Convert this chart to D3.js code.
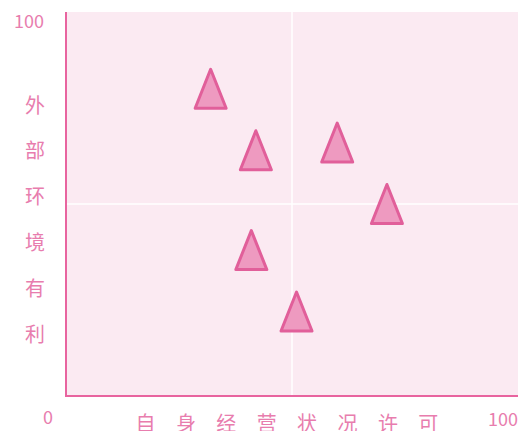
<!DOCTYPE html>
<html>
<head>
<meta charset="utf-8">
<script src="https://cdn.jsdelivr.net/npm/d3@7"></script>
<style>
  body { margin: 0; background: #fff; }
  text { font-family: "Noto Sans CJK SC", "Noto Sans", sans-serif; fill: #E87DAE; }
</style>
</head>
<body>
<script>
//chart data
var xValues = [32, 42, 41, 51, 60, 71]; //自身经营状况许可
var yValues = [80, 64, 38, 22, 66, 50]; //外部环境有利
var xTitle = ["自", "身", "经", "营", "状", "况", "许", "可"];
var yTitle = ["外", "部", "环", "境", "有", "利"];
var tickLabels = ["0", "100"];

var w = 518, h = 431;
//plot box edges (no "top" here, window.top is taken)
var plotL = 66, plotT = 12, plotR = 518, plotB = 396;

var svg = d3.select("body").append("svg")
    .attr("width", w)
    .attr("height", h);

var x = d3.scaleLinear().domain([0, 100]).range([plotL, plotR]);
var y = d3.scaleLinear().domain([0, 100]).range([plotB, plotT]);

//plot background
svg.append("rect")
    .attr("x", plotL)
    .attr("y", plotT)
    .attr("width", plotR - plotL)
    .attr("height", plotB - plotT)
    .style("fill", "#FBEAF2");

//white midlines
svg.append("line")
    .attr("x1", x(50)).attr("x2", x(50))
    .attr("y1", plotT).attr("y2", plotB)
    .style("stroke", "#fff").style("stroke-width", 1.5);
svg.append("line")
    .attr("x1", plotL).attr("x2", plotR)
    .attr("y1", y(50)).attr("y2", y(50))
    .style("stroke", "#fff").style("stroke-width", 1.5);

//axis lines
svg.append("line")
    .attr("x1", plotL).attr("x2", plotL)
    .attr("y1", plotT).attr("y2", plotB + 1)
    .style("stroke", "#E8649F").style("stroke-width", 2);
svg.append("line")
    .attr("x1", plotL - 1).attr("x2", plotR)
    .attr("y1", plotB).attr("y2", plotB)
    .style("stroke", "#E8649F").style("stroke-width", 2);

//tick labels
svg.append("text")
    .attr("x", 44).attr("y", y(100) + 10)
    .attr("dy", "0.35em")
    .attr("text-anchor", "end")
    .style("font-size", "18px")
    .text(tickLabels[1]);
svg.append("text")
    .attr("x", 48).attr("y", 418)
    .attr("dy", "0.35em")
    .attr("text-anchor", "middle")
    .style("font-size", "18px")
    .text(tickLabels[0]);
svg.append("text")
    .attr("x", 503).attr("y", 420)
    .attr("dy", "0.35em")
    .attr("text-anchor", "middle")
    .style("font-size", "18px")
    .text(tickLabels[1]);

//axis titles, one character each
svg.selectAll(".ytitle")
    .data(yTitle)
    .enter()
    .append("text")
    .attr("class", "ytitle")
    .attr("x", 35)
    .attr("y", function(d, i){ return 105.5 + i * 45.8; })
    .attr("dy", "0.35em")
    .attr("text-anchor", "middle")
    .style("font-size", "20px")
    .text(function(d){ return d; });

svg.selectAll(".xtitle")
    .data(xTitle)
    .enter()
    .append("text")
    .attr("class", "xtitle")
    .attr("x", function(d, i){ return 145.5 + i * 40.4; })
    .attr("y", 424)
    .attr("dy", "0.35em")
    .attr("text-anchor", "middle")
    .style("font-size", "20px")
    .text(function(d){ return d; });

//triangle markers
var tw = 31, th = 39;
var points = xValues.map(function(d, i){ return [d, yValues[i]]; });

svg.selectAll(".marker")
    .data(points)
    .enter()
    .append("path")
    .attr("class", "marker")
    .attr("d", function(d){
        var cx = x(d[0]), cy = y(d[1]);
        return "M" + cx + "," + (cy - th / 2) +
            "L" + (cx + tw / 2) + "," + (cy + th / 2) +
            "L" + (cx - tw / 2) + "," + (cy + th / 2) + "Z";
    })
    .style("fill", "#EE9AC0")
    .style("stroke", "#E15F9A")
    .style("stroke-width", 3)
    .style("stroke-linejoin", "round");
</script>
</body>
</html>
